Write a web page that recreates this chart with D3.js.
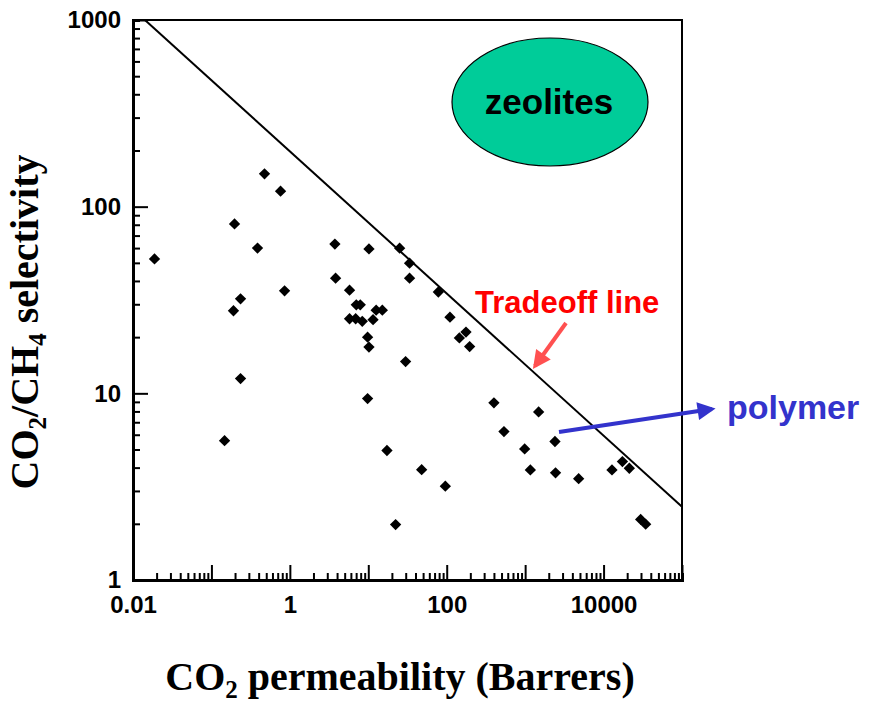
<!DOCTYPE html>
<html>
<head>
<meta charset="utf-8">
<script src="https://cdn.jsdelivr.net/npm/d3@7"></script>
<style>
  body { margin: 0; background: white; }
  svg { display: block; }
</style>
</head>
<body>
<script>
// CO2 permeability (Barrers) and CO2/CH4 selectivity of each polymer point
var permeability = [0.0188, 0.197, 0.475, 0.761, 0.387, 0.856, 0.235, 0.191, 0.235, 0.147,
  3.75, 10.2, 25.1, 33.6, 33.6, 3.83, 5.77, 7.03, 7.9, 12.6, 15.1, 5.77, 6.9, 8.38, 11.5,
  9.8, 10.2, 29.9, 78.2, 110, 145, 176, 196,
  9.8, 17.3, 47.9, 96, 22.3,
  400, 1486, 537, 2400, 986, 1165, 2440, 4810, 12800, 17400, 21300, 29700, 34400];
var selectivity = [52.5, 80.8, 150, 121, 60, 35.4, 32.1, 27.7, 12, 5.58,
  63, 59.4, 59.9, 49.8, 41.4, 41.4, 35.7, 29.8, 29.8, 27.9, 27.9, 25.1, 25.1, 24.3, 24.8,
  20, 17.7, 14.8, 34.9, 25.6, 19.8, 21.3, 17.8,
  9.37, 4.94, 3.9, 3.18, 1.98,
  8.89, 7.95, 6.24, 5.52, 5.04, 3.89, 3.75, 3.49, 3.89, 4.31, 3.97, 2.11, 1.99];

// tradeoff (upper bound) line end points
var tradeoffP = [0.0142, 100000];
var tradeoffS = [1000, 2.47];

var xTickValues = [0.01, 0.1, 1, 10, 100, 1000, 10000, 100000];
var xTickLabels = ["0.01", "", "1", "", "100", "", "10000", ""];
var yTickValues = [1, 10, 100, 1000];
var yTickLabels = ["1", "10", "100", "1000"];

var width = 870, height = 702;
var margin = { left: 133, top: 20, right: 188, bottom: 122 };
var plotW = width - margin.left - margin.right;
var plotH = height - margin.top - margin.bottom;

var svg = d3.select("body").append("svg")
  .attr("width", width)
  .attr("height", height);

var x = d3.scaleLog().domain([0.01, 100000]).range([0, plotW]);
var y = d3.scaleLog().domain([1, 1000]).range([plotH, 0]);

// minor ticks 2..9 of every decade
function minorTicks(lo, hi) {
  var out = [];
  for (var e = lo; e < hi; e++) {
    for (var m = 2; m <= 9; m++) out.push(m * Math.pow(10, e));
  }
  return out;
}

var chartGroup = svg.append("g").attr("transform", "translate(" + margin.left + "," + margin.top + ")");

// frame
chartGroup.append("rect")
  .attr("width", plotW).attr("height", plotH)
  .attr("fill", "none").attr("stroke", "black").attr("stroke-width", 2);

// x axis
chartGroup.append("g")
  .attr("class", "axis x minor")
  .attr("transform", "translate(0," + plotH + ")")
  .call(d3.axisBottom(x).tickValues(minorTicks(-2, 5)).tickSize(-7).tickFormat(""));

chartGroup.append("g")
  .attr("class", "axis x")
  .attr("transform", "translate(0," + plotH + ")")
  .call(d3.axisBottom(x).tickValues(xTickValues).tickSizeInner(-15).tickSizeOuter(0).tickPadding(16)
    .tickFormat(function(d, i) { return xTickLabels[i]; }));

// y axis
chartGroup.append("g")
  .attr("class", "axis y minor")
  .call(d3.axisLeft(y).tickValues(minorTicks(0, 3)).tickSize(-7).tickFormat(""));

chartGroup.append("g")
  .attr("class", "axis y")
  .call(d3.axisLeft(y).tickValues(yTickValues).tickSizeInner(-15).tickSizeOuter(0).tickPadding(12)
    .tickFormat(function(d, i) { return yTickLabels[i]; }));

chartGroup.selectAll(".axis path.domain").attr("stroke", "black").attr("stroke-width", 3);
chartGroup.selectAll(".axis line").attr("stroke", "black").attr("stroke-width", 2);
chartGroup.selectAll(".axis text")
  .attr("fill", "black")
  .style("font-family", "'Liberation Sans', Arial, sans-serif")
  .style("font-weight", "bold")
  .style("font-size", "24px");

// tradeoff line
chartGroup.append("line")
  .attr("x1", x(tradeoffP[0])).attr("y1", y(tradeoffS[0]))
  .attr("x2", x(tradeoffP[1])).attr("y2", y(tradeoffS[1]))
  .attr("stroke", "black").attr("stroke-width", 2);

// polymer points (diamonds)
chartGroup.selectAll("path.pt")
  .data(permeability)
  .enter()
  .append("path")
    .attr("class", "pt")
    .attr("d", d3.symbol().type(d3.symbolSquare).size(64))
    .attr("transform", function(d, i) {
      return "translate(" + x(d) + "," + y(selectivity[i]) + ") rotate(45)";
    })
    .attr("fill", "black");

// zeolites ellipse
svg.append("ellipse")
  .attr("cx", 550).attr("cy", 102).attr("rx", 98).attr("ry", 64)
  .attr("fill", "#00CC99").attr("stroke", "black").attr("stroke-width", 1.2);
svg.append("text")
  .attr("x", 549).attr("y", 114)
  .attr("text-anchor", "middle")
  .style("font-family", "'Liberation Sans', Arial, sans-serif")
  .style("font-weight", "bold").style("font-size", "35px")
  .text("zeolites");

// annotations
var defs = svg.append("defs");
function arrowMarker(id, color) {
  defs.append("marker")
    .attr("id", id)
    .attr("viewBox", "0 0 10 10")
    .attr("refX", 8).attr("refY", 5)
    .attr("markerWidth", 5).attr("markerHeight", 4.5)
    .attr("markerUnits", "strokeWidth")
    .attr("orient", "auto")
    .append("path").attr("d", "M0,0 L10,5 L0,10 z").attr("fill", color);
}
arrowMarker("redArrow", "#FF5050");
arrowMarker("blueArrow", "#3333CC");

svg.append("text")
  .attr("x", 475).attr("y", 313)
  .attr("fill", "#FF0000")
  .style("font-family", "'Liberation Sans', Arial, sans-serif")
  .style("font-weight", "bold").style("font-size", "31px")
  .text("Tradeoff line");

svg.append("line")
  .attr("x1", 566).attr("y1", 323).attr("x2", 535).attr("y2", 366)
  .attr("stroke", "#FF5050").attr("stroke-width", 4)
  .attr("marker-end", "url(#redArrow)");

svg.append("line")
  .attr("x1", 559).attr("y1", 432).attr("x2", 712).attr("y2", 409)
  .attr("stroke", "#3333CC").attr("stroke-width", 4)
  .attr("marker-end", "url(#blueArrow)");

svg.append("text")
  .attr("x", 727).attr("y", 419)
  .attr("fill", "#3333CC")
  .style("font-family", "'Liberation Sans', Arial, sans-serif")
  .style("font-weight", "bold").style("font-size", "34px")
  .text("polymer");

// axis titles
var serif = "'Liberation Serif', 'Times New Roman', serif";
var xt = svg.append("text")
  .attr("x", 400).attr("y", 690)
  .attr("text-anchor", "middle")
  .style("font-family", serif).style("font-weight", "bold").style("font-size", "40px");
xt.append("tspan").text("CO");
xt.append("tspan").attr("dy", 8).style("font-size", "25px").text("2");
xt.append("tspan").attr("dy", -8).text(" permeability (Barrers)");

var yt = svg.append("text")
  .attr("transform", "translate(38,322) rotate(-90)")
  .attr("text-anchor", "middle")
  .style("font-family", serif).style("font-weight", "bold").style("font-size", "40px");
yt.append("tspan").text("CO");
yt.append("tspan").attr("dy", 8).style("font-size", "25px").text("2");
yt.append("tspan").attr("dy", -8).text("/CH");
yt.append("tspan").attr("dy", 8).style("font-size", "25px").text("4");
yt.append("tspan").attr("dy", -8).text(" selectivity");
</script>
</body>
</html>
